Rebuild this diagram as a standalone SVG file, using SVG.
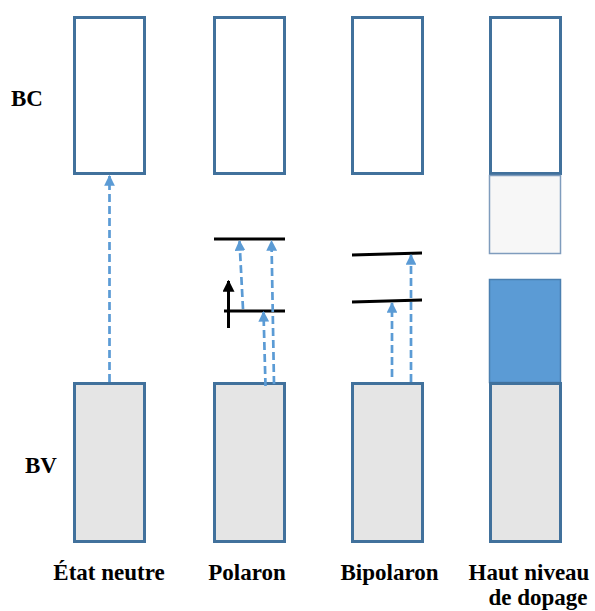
<svg xmlns="http://www.w3.org/2000/svg" width="595" height="611" viewBox="0 0 595 611">
<defs>
<style>
.band{fill:#ffffff;stroke:#41719c;stroke-width:3}
.vb{fill:#e5e5e5;stroke:#41719c;stroke-width:3}
.lvl{stroke:#000;stroke-width:3;fill:none}
.tr{stroke:#5b9bd5;stroke-width:2.7;stroke-dasharray:8,4;fill:none}
</style>
<marker id="ah" viewBox="0 0 10 10" refX="9" refY="5" markerWidth="4" markerHeight="4" orient="auto" markerUnits="strokeWidth">
<path d="M0,0 L10,5 L0,10 z" fill="#5b9bd5"/>
</marker>
<marker id="ahk" viewBox="0 0 10 10" refX="9" refY="5" markerWidth="4.2" markerHeight="4" orient="auto" markerUnits="strokeWidth">
<path d="M0,0 L10,5 L0,10 z" fill="#000"/>
</marker>
</defs>
<g id="labels-side">
<text x="11" y="106" font-family="Liberation Serif" font-weight="bold" font-size="23">BC</text>
<text x="25" y="473" font-family="Liberation Serif" font-weight="bold" font-size="23">BV</text>
</g>
<g id="neutre">
<rect class="band" x="74.5" y="17.5" width="70" height="156"/>
<rect class="vb" x="74.5" y="383.5" width="70" height="158"/>
<text x="109" y="580" text-anchor="middle" font-family="Liberation Serif" font-weight="bold" font-size="23">État neutre</text>
</g>
<g id="polaron">
<rect class="band" x="214.5" y="17.5" width="70" height="156"/>
<rect class="vb" x="214.5" y="383.5" width="70" height="158"/>
<line class="lvl" x1="214" y1="239" x2="285" y2="239"/>
<line class="lvl" x1="224" y1="311" x2="285" y2="311"/>
<line class="lvl" x1="228.5" y1="328" x2="228.5" y2="281" marker-end="url(#ahk)"/>
<text x="247" y="580" text-anchor="middle" font-family="Liberation Serif" font-weight="bold" font-size="23">Polaron</text>
</g>
<g id="bipolaron">
<rect class="band" x="352.5" y="17.5" width="70" height="156"/>
<rect class="vb" x="352.5" y="383.5" width="70" height="158"/>
<line class="lvl" x1="352" y1="255" x2="422" y2="253"/>
<line class="lvl" x1="352" y1="302" x2="422" y2="300"/>
<text x="389.5" y="580" text-anchor="middle" font-family="Liberation Serif" font-weight="bold" font-size="23">Bipolaron</text>
</g>
<g id="dopage">
<rect class="band" x="490.5" y="17.5" width="70" height="156"/>
<rect x="489.5" y="175.5" width="71" height="78" fill="#f7f7f7" stroke="#7f9cbd" stroke-width="1.5"/>
<rect x="489.5" y="279.5" width="71" height="103" fill="#5b9bd5" stroke="#4a7fb0" stroke-width="1.5"/>
<rect class="vb" x="490.5" y="383.5" width="70" height="158"/>
<text x="529" y="580" text-anchor="middle" font-family="Liberation Serif" font-weight="bold" font-size="23">Haut niveau</text>
<text x="538" y="605" text-anchor="middle" font-family="Liberation Serif" font-weight="bold" font-size="23">de dopage</text>
</g>
<g id="connectors">
<line class="tr" x1="109.5" y1="382" x2="109.5" y2="176" marker-end="url(#ah)"/>
<line class="tr" x1="243" y1="309" x2="239.5" y2="241" marker-end="url(#ah)"/>
<line class="tr" x1="274" y1="384" x2="271.5" y2="241" marker-end="url(#ah)"/>
<line class="tr" x1="265.5" y1="386" x2="263.5" y2="312" marker-end="url(#ah)"/>
<line class="tr" x1="392" y1="377" x2="392" y2="303" marker-end="url(#ah)"/>
<line class="tr" x1="411" y1="382" x2="411" y2="255" marker-end="url(#ah)"/>
</g>
</svg>
